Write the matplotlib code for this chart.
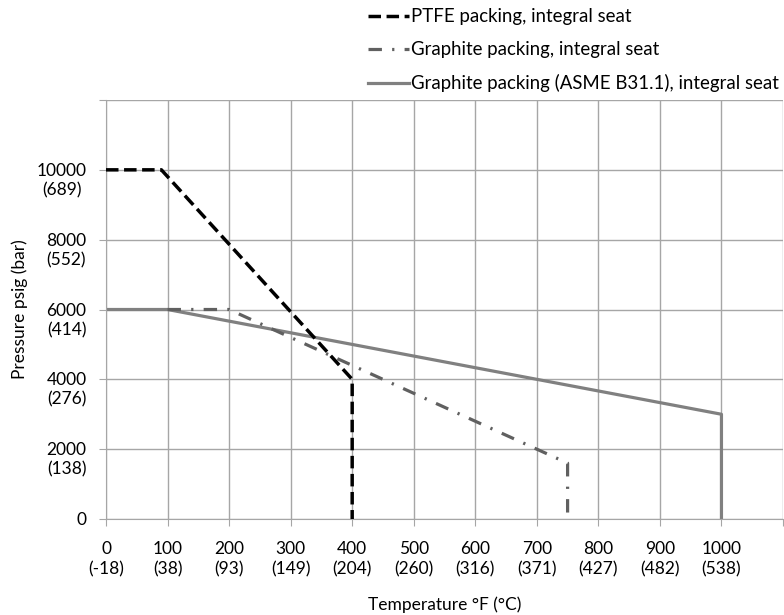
import matplotlib
matplotlib.use("Agg")
import matplotlib.pyplot as plt

ptfe_x = [0, 90, 400, 400]
ptfe_y = [10000, 10000, 4000, 0]
graph_x = [100, 200, 750, 750]
graph_y = [6000, 6000, 1600, 0]
asme_x = [0, 100, 1000, 1000]
asme_y = [6000, 6000, 3000, 0]

xticks = [0, 100, 200, 300, 400, 500, 600, 700, 800, 900, 1000]
xtick_labels = ["0\n(-18)", "100\n(38)", "200\n(93)", "300\n(149)", "400\n(204)", "500\n(260)",
                "600\n(316)", "700\n(371)", "800\n(427)", "900\n(482)", "1000\n(538)"]
yticks = [0, 2000, 4000, 6000, 8000, 10000]
ytick_labels = ["0", "2000\n(138)", "4000\n(276)", "6000\n(414)", "8000\n(552)", "10000\n(689)"]

FS = 12.5
plt.rcParams['font.family'] = ['Lato', 'DejaVu Sans']
fig = plt.figure(figsize=(7.84, 6.15), dpi=100)
ax = fig.add_axes([106/784, 96/615, 677/784, 419/615])

ax.plot(ptfe_x, ptfe_y, color='black', lw=2.5, ls=(0, (3.6, 1.6)), label='PTFE packing, integral seat', zorder=4)
ax.plot(graph_x, graph_y, color='#606060', lw=2.3, ls=(0, (4.2, 3.2, 0.7, 3.2)), label='Graphite packing, integral seat', zorder=3)
ax.plot(asme_x, asme_y, color='#808080', lw=2.3, label='Graphite packing (ASME B31.1), integral seat', zorder=2)

ax.set_xlim(0, 1100)
ax.set_ylim(0, 12000)
ax.set_xticks(list(range(0, 1101, 100)))
ax.set_xticklabels(xtick_labels + [""], fontsize=FS, linespacing=1.3)
ax.set_yticks(list(range(0, 12001, 2000)))
ax.set_yticklabels([""] * 7)
for v, lbl in zip(yticks, ytick_labels):
    ax.annotate(lbl, xy=(0, v), xycoords=('axes fraction', 'data'), xytext=(-14, 5),
                textcoords='offset points', ha='right', va='top', multialignment='center',
                fontsize=FS, linespacing=1.25, annotation_clip=False)

ax.grid(True, color='#a6a6a6', lw=1)
ax.set_axisbelow(True)
for s in ['top', 'right']:
    ax.spines[s].set_visible(False)
ax.spines['left'].set_color('#a6a6a6')
ax.spines['bottom'].set_color('#a6a6a6')
ax.tick_params(axis='both', length=5, color='#a6a6a6')
ax.tick_params(axis='x', pad=11)
ax.set_xlabel('Temperature °F (°C)', fontsize=FS, labelpad=14)
ax.set_ylabel('Pressure psig (bar)', fontsize=FS, labelpad=48)

fig.legend(loc='upper left', bbox_to_anchor=(360/784, 1.0), frameon=False, fontsize=13.4,
           handlelength=2.2, handletextpad=0.1, labelspacing=0.85, borderaxespad=0.05)

fig.savefig('out.png', dpi=100)
